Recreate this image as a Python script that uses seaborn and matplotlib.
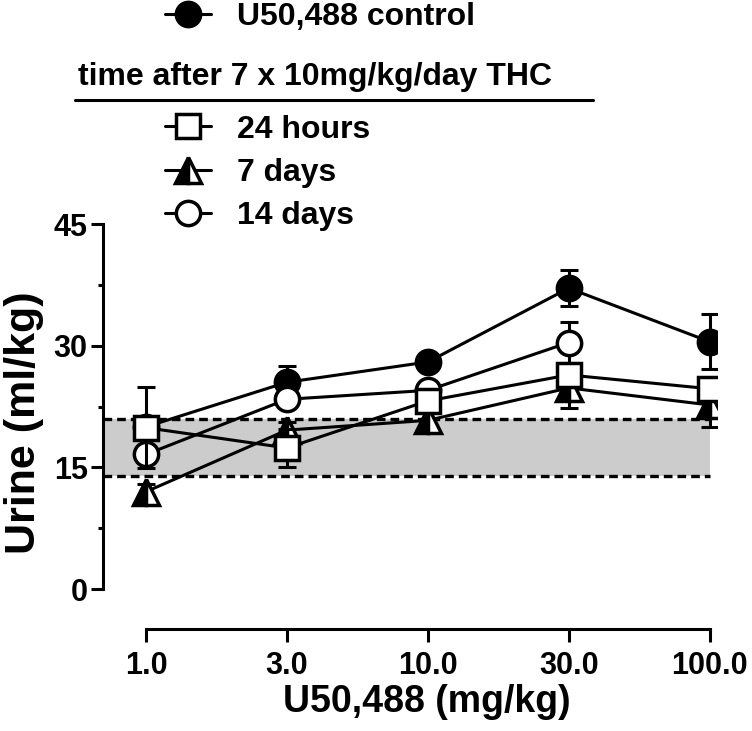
import numpy as np
import matplotlib
matplotlib.use('Agg')
import matplotlib.pyplot as plt
from matplotlib.lines import Line2D
import seaborn as sns

# dose categories (evenly spaced on the x axis)
DOSES = ['1.0', '3.0', '10.0', '30.0', '100.0']

# urine output (ml/kg), mean and SEM
CONTROL_MEAN = [20.0, 25.5, 28.0, 37.1, 30.5]
CONTROL_SEM = [1.0, 2.0, 1.0, 2.2, 3.4]
H24_MEAN = [19.9, 17.4, 23.2, 26.4, 24.7]
H24_SEM = [5.0, 2.3, 1.2, 1.2, 1.2]
D7_MEAN = [12.0, 19.6, 20.8, 24.8, 22.7]
D7_SEM = [1.0, 1.0, 1.2, 2.5, 2.7]
D14_MEAN = [16.6, 23.4, 24.5, 30.4, np.nan]
D14_SEM = [1.0, 1.0, 1.0, 2.5, np.nan]

# vehicle range (grey band)
BAND_LOW, BAND_HIGH = 14.0, 21.0

LABELS = ['U50,488 control', '24 hours', '7 days', '14 days']
HEADER = 'time after 7 x 10mg/kg/day THC'

sns.set_theme(style='ticks')
plt.rcParams['font.family'] = ['Liberation Sans', 'DejaVu Sans']
plt.rcParams['font.weight'] = 'bold'
plt.rcParams['axes.labelweight'] = 'bold'
plt.rcParams['text.color'] = 'black'
plt.rcParams['axes.labelcolor'] = 'black'
plt.rcParams['xtick.color'] = 'black'
plt.rcParams['ytick.color'] = 'black'
plt.rcParams['axes.edgecolor'] = 'black'

LW = 2.2
MS = 17.5
MEW = 2.5

STYLES = {
    'control': dict(marker='o', markerfacecolor='black', markersize=MS),
    '24h': dict(marker='s', markerfacecolor='white', markersize=MS),
    '7d': dict(marker='^', markerfacecolor='black', fillstyle='left',
               markerfacecoloralt='white', markersize=MS + 1.5),
    '14d': dict(marker='o', markerfacecolor='white', markersize=MS),
}

fig = plt.figure(figsize=(7.52, 7.31), dpi=100)
ax = fig.add_axes([0.137, 0.1395, 0.816, 0.565])

x = np.arange(len(DOSES))
x_left = -0.305
ax.set_xlim(x_left, 4.05)
ax.set_ylim(-4.93, 46)

# grey band with dashed borders
ax.fill_between([x_left, 4.0], BAND_LOW, BAND_HIGH, color='#cccccc', lw=0, zorder=0)
ax.hlines([BAND_LOW, BAND_HIGH], x_left, 4.0, colors='black', lw=2.4,
          linestyles=(0, (2.6, 1.5)), zorder=0.5)

series = [
    ('control', CONTROL_MEAN, CONTROL_SEM),
    ('7d', D7_MEAN, D7_SEM),
    ('14d', D14_MEAN, D14_SEM),
    ('24h', H24_MEAN, H24_SEM),
]

for i, (key, mean, sem) in enumerate(series):
    z = 2 + i
    ax.errorbar(x, mean, yerr=sem, fmt='none', ecolor='black', elinewidth=LW,
                capsize=6.5, capthick=LW, zorder=z)
    sns.lineplot(x=x, y=mean, ax=ax, color='black', lw=LW, markeredgecolor='black',
                 markeredgewidth=MEW, zorder=z + 0.5, legend=False, errorbar=None,
                 **STYLES[key])

# axes styling (Prism-like detached spines)
for side in ['top', 'right']:
    ax.spines[side].set_visible(False)
ax.spines['left'].set_bounds(0, 45)
ax.spines['bottom'].set_bounds(0, 4)
ax.spines['left'].set_linewidth(LW)
ax.spines['bottom'].set_linewidth(LW)

ax.set_xticks(x)
ax.set_xticklabels(DOSES)
ax.set_yticks([0, 15, 30, 45])
ax.set_yticks([7.5, 22.5, 37.5], minor=True)
ax.tick_params(axis='both', which='major', direction='out', length=9, width=LW,
               labelsize=22, colors='black')
ax.tick_params(axis='x', pad=7)
ax.tick_params(axis='y', pad=2)
ax.tick_params(axis='y', which='minor', direction='out', length=3.8, width=LW)
for lab in ax.get_xticklabels() + ax.get_yticklabels():
    lab.set_fontweight('bold')

ax.set_xlabel('U50,488 (mg/kg)', fontsize=27, fontweight='bold', labelpad=2)
ax.xaxis.label.set_x(0.528)
ax.set_ylabel('Urine (ml/kg)', fontsize=31, fontweight='bold', labelpad=7)

# legend
def handle(key):
    return Line2D([], [], color='black', lw=LW, markeredgecolor='black',
                  markeredgewidth=MEW, **STYLES[key])

prop = dict(size=23, weight='bold')
leg1 = fig.legend([handle('control')], [LABELS[0]], loc='center left',
                  bbox_to_anchor=(165 / 752, 1 - 17 / 731), bbox_transform=fig.transFigure,
                  frameon=False, prop=prop, handlelength=1.45, handletextpad=0.8,
                  borderpad=0, borderaxespad=0)
fig.text(315 / 752, 1 - 77 / 731, HEADER, ha='center', va='center',
         fontsize=23, fontweight='bold')
fig.add_artist(Line2D([75 / 752, 593 / 752], [1 - 100 / 731] * 2,
                      transform=fig.transFigure, color='black', lw=LW))
leg2 = fig.legend([handle('24h'), handle('7d'), handle('14d')], LABELS[1:],
                  loc='center left', bbox_to_anchor=(165 / 752, 1 - 173 / 731),
                  bbox_transform=fig.transFigure, frameon=False, prop=prop,
                  handlelength=1.45, handletextpad=0.8, labelspacing=0.42,
                  borderpad=0, borderaxespad=0)

fig.savefig('out.png', dpi=100)
